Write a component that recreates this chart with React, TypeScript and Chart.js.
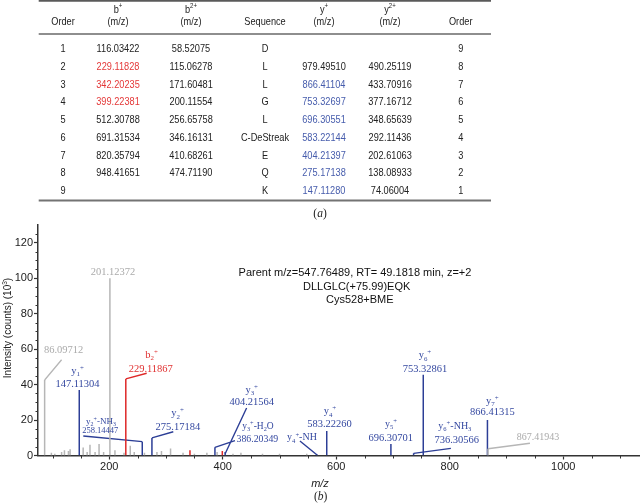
import React, { useEffect, useRef } from 'react';
import { Chart, registerables } from 'chart.js';
Chart.register(...registerables);

const SANS = '"Liberation Sans", Arial, sans-serif';
const SERIF = '"Liberation Serif", "Times New Roman", serif';

// ---------- Table (a) ----------
const tableHeaders = ['Order', 'b^+', 'b^{2+}', 'Sequence', 'y^+', 'y^{2+}', 'Order'];
const orderB = ['1', '2', '3', '4', '5', '6', '7', '8', '9'];
const bIons = ['116.03422', '229.11828', '342.20235', '399.22381', '512.30788', '691.31534', '820.35794', '948.41651', ''];
const b2Ions = ['58.52075', '115.06278', '171.60481', '200.11554', '256.65758', '346.16131', '410.68261', '474.71190', ''];
const sequence = ['D', 'L', 'L', 'G', 'L', 'C-DeStreak', 'E', 'Q', 'K'];
const yIons = ['', '979.49510', '866.41104', '753.32697', '696.30551', '583.22144', '404.21397', '275.17138', '147.11280'];
const y2Ions = ['', '490.25119', '433.70916', '377.16712', '348.65639', '292.11436', '202.61063', '138.08933', '74.06004'];
const orderY = ['9', '8', '7', '6', '5', '4', '3', '2', '1'];
const bMatched = [false, true, true, true, false, false, false, false, false];
const yMatched = [false, false, true, true, true, true, true, true, true];

// ---------- Spectrum (b) ----------
const bluePeaksMz = [147.11304, 258.14447, 275.17184, 386.20349, 404.21564, 566.2, 583.2226, 696.30701, 736.30566, 753.32861, 866.41315];
const bluePeaksInt = [37, 7.8, 9.9, 4.6, 2, 0.5, 13.8, 6.5, 1.2, 45.5, 20];
const redPeaksMz = [229.11867, 342.2, 399.2];
const redPeaksInt = [43.2, 3, 2.5];
const grayPeaksMz = [86.09712, 201.12372, 867.41943, 98, 104, 116, 121, 128, 131, 154, 161, 166, 175, 182, 190, 210, 226, 237, 244, 262, 284, 292, 308, 330, 350, 372, 390, 418, 432, 470, 500, 548];
const grayPeaksInt = [42.6, 100, 3.8, 1.5, 1, 2, 3, 2.5, 3.5, 4.5, 2, 6, 2, 6.5, 2, 3, 1.5, 5.5, 2, 1.5, 2, 2.5, 4, 1.5, 1, 1.5, 2, 1, 1.5, 1, 1, 1];

// leader lines: from peak top to label
const leaderColor = ['gray', 'red', 'blue', 'blue', 'blue', 'blue', 'blue', 'blue', 'gray'];
const leaderFromMz = [86.09712, 229.11867, 258.14447, 275.17184, 386.20349, 404.21564, 566.2, 736.30566, 867.41943];
const leaderFromInt = [42.6, 43.2, 7.8, 9.9, 4.6, 1, 0.3, 1.2, 3.8];
const leaderToMz = [116, 265.9, 154.2, 312.8, 421.5, 442, 536, 802, 941.3];
const leaderToInt = [54, 46.4, 11, 13.4, 8.4, 26.8, 8.2, 4, 6.9];

// peak labels (text, centre m/z, centre intensity, colour, size)
const annText = ['86.09712', '201.12372', 'y_1^+', '147.11304', 'b_2^+', '229.11867', 'y_2^+-NH_3', '258.14447', 'y_2^+', '275.17184',
  'y_3^+-H_2O', '386.20349', 'y_3^+', '404.21564', 'y_4^+-NH', 'y_4^+', '583.22260', 'y_5^+', '696.30701', 'y_6^+-NH_3', '736.30566',
  'y_6^+', '753.32861', 'y_7^+', '866.41315', '867.41943'];
const annMz = [119.6, 206.5, 144, 144, 274.7, 273.1, 185.4, 184.1, 320.2, 321, 462, 461, 451, 451, 539.6, 588.9, 588, 696.4, 696, 809, 812.3, 756.3, 756.3, 875.2, 875.2, 955.4];
const annInt = [60, 103.6, 48.3, 40.8, 57.3, 49.2, 19.5, 14.4, 24.2, 16.3, 17, 9.3, 37.4, 30.4, 10.5, 25.3, 18.2, 18.2, 10.3, 17.2, 9.2, 56.9, 49.3, 31.3, 24.7, 10.6];
const annColor = ['gray', 'gray', 'blue', 'blue', 'red', 'red', 'blue', 'blue', 'blue', 'blue', 'blue', 'blue', 'blue', 'blue', 'blue', 'blue', 'blue', 'blue', 'blue', 'blue', 'blue', 'blue', 'blue', 'blue', 'blue', 'gray'];
const annSize = [10.5, 10.5, 10.5, 10.5, 10.5, 10.5, 9, 8.5, 10.5, 10.5, 9.5, 9.8, 10.5, 10.5, 10, 10.5, 10.5, 10, 10.5, 10, 10.5, 10.5, 10.5, 10.5, 10.5, 10];

const infoLines = ['Parent m/z=547.76489, RT= 49.1818 min, z=+2', 'DLLGLC(+75.99)EQK', 'Cys528+BME'];
const infoMz = [633, 636, 641.5];
const infoInt = [103.2, 95.6, 88.2];

const COLORS: Record<string, string> = {
  gray: 'rgb(182,182,182)',
  blue: 'rgb(44,62,150)',
  red: 'rgb(222,40,40)',
};
const TEXT_COLORS: Record<string, string> = {
  gray: 'rgb(170,170,170)',
  blue: 'rgb(52,72,160)',
  red: 'rgb(224,48,48)',
};

function drawRich(ctx: CanvasRenderingContext2D, text: string, x: number, cy: number, size: number, family: string, align = 'center', style = '') {
  const parts: { t: string; m: string; w: number }[] = [];
  let i = 0;
  while (i < text.length) {
    const c = text[i];
    if (c === '^' || c === '_') {
      let content: string;
      if (text[i + 1] === '{') {
        const j = text.indexOf('}', i + 2);
        content = text.slice(i + 2, j);
        i = j + 1;
      } else {
        content = text[i + 1];
        i += 2;
      }
      parts.push({ t: content, m: c === '^' ? 'sup' : 'sub', w: 0 });
    } else {
      let j = i;
      while (j < text.length && text[j] !== '^' && text[j] !== '_') j++;
      parts.push({ t: text.slice(i, j), m: 'n', w: 0 });
      i = j;
    }
  }
  const fontFor = (m: string) => `${style} ${m === 'n' ? size : size * 0.66}px ${family}`;
  let w = 0;
  for (const p of parts) {
    ctx.font = fontFor(p.m);
    p.w = ctx.measureText(p.t).width;
    w += p.w;
  }
  let sx = align === 'center' ? x - w / 2 : align === 'left' ? x : x - w;
  ctx.textAlign = 'left';
  ctx.textBaseline = 'alphabetic';
  const base = cy + size * 0.35;
  for (const p of parts) {
    ctx.font = fontFor(p.m);
    const dy = p.m === 'sup' ? -size * 0.38 : p.m === 'sub' ? size * 0.22 : 0;
    ctx.fillText(p.t, sx, base + dy);
    sx += p.w;
  }
}

function drawCaption(ctx: CanvasRenderingContext2D, letter: string, cx: number, cy: number) {
  const size = 11.5;
  ctx.fillStyle = '#222';
  ctx.textBaseline = 'alphabetic';
  ctx.textAlign = 'left';
  ctx.font = `${size}px ${SERIF}`;
  const wp = ctx.measureText('(').width;
  ctx.font = `italic ${size}px ${SERIF}`;
  const wl = ctx.measureText(letter).width;
  const total = wp * 2 + wl;
  let x = cx - total / 2;
  const base = cy + size * 0.33;
  ctx.font = `${size}px ${SERIF}`;
  ctx.fillText('(', x, base);
  x += wp;
  ctx.font = `italic ${size}px ${SERIF}`;
  ctx.fillText(letter, x, base);
  x += wl;
  ctx.font = `${size}px ${SERIF}`;
  ctx.fillText(')', x, base);
}

const tablePlugin = {
  id: 'tablePlugin',
  afterDraw(chart: any) {
    const ctx: CanvasRenderingContext2D = chart.ctx;
    ctx.save();
    const colX = [63, 118, 191, 265, 324, 390, 460.7];
    const left = 38.7, right = 491;
    ctx.strokeStyle = 'rgb(90,90,90)';
    ctx.lineWidth = 1.8;
    ctx.beginPath();
    ctx.moveTo(left, 0.9); ctx.lineTo(right, 0.9);
    ctx.stroke();
    ctx.strokeStyle = 'rgb(105,105,105)';
    ctx.lineWidth = 1.4;
    ctx.beginPath();
    ctx.moveTo(left, 34); ctx.lineTo(right, 34);
    ctx.stroke();
    ctx.strokeStyle = 'rgb(115,115,115)';
    ctx.lineWidth = 1.8;
    ctx.beginPath();
    ctx.moveTo(left, 200.5); ctx.lineTo(right, 200.5);
    ctx.stroke();

    const size = 11.5;
    const sx = 0.8;
    const put = (text: string, cx: number, cy: number, color: string) => {
      ctx.save();
      ctx.translate(cx, cy);
      ctx.scale(sx, 1);
      ctx.fillStyle = color;
      drawRich(ctx, text, 0, 0, size, SANS);
      ctx.restore();
    };
    tableHeaders.forEach((h, k) => {
      if (h === 'Order' || h === 'Sequence') {
        put(h, colX[k], 21, '#222');
      } else {
        put(h, colX[k], 8.5, '#222');
        put('(m/z)', colX[k], 21.3, '#222');
      }
    });
    const rowY0 = 48.3, rowDy = 17.72;
    const black = '#222';
    const red = 'rgb(228,56,56)';
    const blue = 'rgb(70,92,172)';
    for (let r = 0; r < orderB.length; r++) {
      const cy = rowY0 + r * rowDy;
      put(orderB[r], colX[0], cy, black);
      if (bIons[r]) put(bIons[r], colX[1], cy, bMatched[r] ? red : black);
      if (b2Ions[r]) put(b2Ions[r], colX[2], cy, black);
      put(sequence[r], colX[3], cy, black);
      if (yIons[r]) put(yIons[r], colX[4], cy, yMatched[r] ? blue : black);
      if (y2Ions[r]) put(y2Ions[r], colX[5], cy, black);
      put(orderY[r], colX[6], cy, black);
    }
    drawCaption(ctx, 'a', 320, 213.3);
    drawCaption(ctx, 'b', 320.7, 496.7);
    ctx.restore();
  },
};

const annotationPlugin = {
  id: 'annotationPlugin',
  afterDatasetsDraw(chart: any) {
    const ctx: CanvasRenderingContext2D = chart.ctx;
    const xs = chart.scales.x, ys = chart.scales.y;
    ctx.save();
    for (let k = 0; k < annText.length; k++) {
      ctx.fillStyle = TEXT_COLORS[annColor[k]];
      drawRich(ctx, annText[k], xs.getPixelForValue(annMz[k]), ys.getPixelForValue(annInt[k]), annSize[k], SERIF);
    }
    ctx.fillStyle = '#111';
    infoLines.forEach((t, k) => {
      drawRich(ctx, t, xs.getPixelForValue(infoMz[k]), ys.getPixelForValue(infoInt[k]), 11, SANS);
    });
    ctx.strokeStyle = '#333';
    ctx.lineWidth = 1;
    const bottom = chart.chartArea.bottom;
    const left = chart.chartArea.left;
    for (let v = 100; v <= 1100; v += 50) {
      if (v % 200 === 0) continue;
      const px = Math.round(xs.getPixelForValue(v)) + 0.5;
      ctx.beginPath();
      ctx.moveTo(px, bottom);
      ctx.lineTo(px, bottom + 3);
      ctx.stroke();
    }
    for (let v = 5; v <= 125; v += 5) {
      if (v % 20 === 0) continue;
      const py = Math.round(ys.getPixelForValue(v)) + 0.5;
      ctx.beginPath();
      ctx.moveTo(left, py);
      ctx.lineTo(left - 2.5, py);
      ctx.stroke();
    }
    ctx.fillStyle = '#222';
    ctx.save();
    ctx.translate(7, 328);
    ctx.rotate(-Math.PI / 2);
    drawRich(ctx, 'Intensity (counts) (10^3)', 0, 0, 10, SANS);
    ctx.restore();
    ctx.fillStyle = '#222';
    drawRich(ctx, 'm/z', 320, 483.5, 11, SANS, 'center', 'italic');
    ctx.restore();
  },
};

function peakSegments(mz: number[], inten: number[]) {
  const out: { x: number; y: number | null }[] = [];
  mz.forEach((m, i) => {
    out.push({ x: m, y: 0 }, { x: m, y: inten[i] }, { x: m, y: null });
  });
  return out;
}

function leaderSegments(color: string) {
  const out: { x: number; y: number | null }[] = [];
  leaderFromMz.forEach((m, i) => {
    if (leaderColor[i] !== color) return;
    out.push({ x: m, y: leaderFromInt[i] }, { x: leaderToMz[i], y: leaderToInt[i] }, { x: leaderToMz[i], y: null });
  });
  return out;
}

export default function App() {
  const ref = useRef<HTMLCanvasElement | null>(null);
  useEffect(() => {
    if (!ref.current) return;
    const lineDs = (data: any[], color: string, width: number) => ({
      type: 'line' as const,
      data,
      borderColor: color,
      backgroundColor: color,
      borderWidth: width,
      pointRadius: 0,
      spanGaps: false,
      tension: 0,
      fill: false,
    });
    const chart = new Chart(ref.current, {
      type: 'line',
      data: {
        datasets: [
          lineDs(peakSegments(grayPeaksMz, grayPeaksInt), COLORS.gray, 1.5),
          lineDs(leaderSegments('gray'), COLORS.gray, 1.3),
          lineDs(peakSegments(redPeaksMz, redPeaksInt), COLORS.red, 1.5),
          lineDs(leaderSegments('red'), COLORS.red, 1.4),
          lineDs(peakSegments(bluePeaksMz, bluePeaksInt), COLORS.blue, 1.5),
          lineDs(leaderSegments('blue'), COLORS.blue, 1.4),
        ] as any,
      },
      options: {
        animation: false,
        responsive: false,
        devicePixelRatio: 1,
        layout: { padding: { top: 225, right: 1, left: 0, bottom: 0 } },
        plugins: { legend: { display: false }, tooltip: { enabled: false } },
        scales: {
          x: {
            type: 'linear',
            min: 74.4,
            max: 1133.5,
            afterFit: (s: any) => { s.height = 48.5; },
            ticks: {
              stepSize: 200,
              includeBounds: false,
              color: '#222',
              padding: 1,
              maxRotation: 0,
              font: { family: SANS, size: 11 },
              callback: (v: any) => String(v),
            },
            grid: { drawOnChartArea: false, drawTicks: true, tickLength: 4, tickColor: '#333', tickWidth: 1.2 },
            border: { display: true, color: '#333', width: 1.5 },
          },
          y: {
            type: 'linear',
            min: 0,
            max: 130,
            afterFit: (s: any) => { s.width = 38; },
            ticks: {
              stepSize: 20,
              includeBounds: false,
              color: '#222',
              padding: 1,
              font: { family: SANS, size: 11 },
              callback: (v: any) => String(v),
            },
            grid: { drawOnChartArea: false, drawTicks: true, tickLength: 4, tickColor: '#333', tickWidth: 1.2 },
            border: { display: true, color: '#333', width: 1.5 },
          },
        },
      } as any,
      plugins: [tablePlugin, annotationPlugin],
    });
    return () => chart.destroy();
  }, []);
  return (
    <div style={{ position: 'fixed', left: 0, top: 0, width: 640, height: 504, background: '#fff' }}>
      <canvas ref={ref} width={640} height={504} style={{ display: 'block', width: 640, height: 504 }} />
    </div>
  );
}
